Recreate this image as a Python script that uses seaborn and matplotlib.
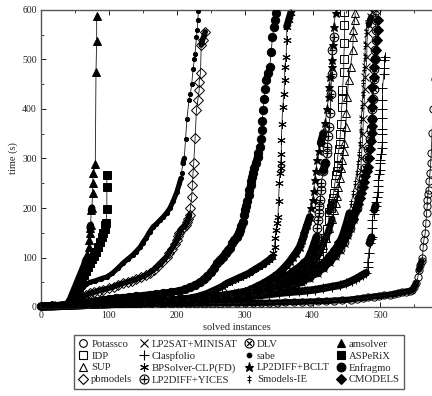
import matplotlib
matplotlib.use("Agg")
import matplotlib.pyplot as plt
from matplotlib.lines import Line2D
from matplotlib.path import Path
from matplotlib.ticker import MultipleLocator
import numpy as np
import pandas as pd
import seaborn as sns

# ---------------- data: (solved instances, time in s) ----------------
POTASSCO = [(0,0.5),(12,1),(24,1.5),(36,2),(48,2.5),(60,3),(72,3),(84,3.5),(96,3.5),(108,4),(120,4),(132,4.5),
            (144,4.5),(156,5),(168,5),(180,5.5),(192,5.5),(204,6),(216,6),(228,6.5),(240,6.5),(252,7),(264,7),
            (276,7.5),(288,7.5),(300,8),(312,8),(324,8.5),(336,8.5),(348,9),(360,9.5),(372,10),(384,10.5),
            (396,11),(408,11.5),(420,12),(432,13),(444,14),(456,15),(466,17),(474,18),(482,19.5),(490,21),
            (498,22),(506,23.5),(514,25),(520,26),(526,28),(532,29.5),(538,31),(543,32.5),(547,34),(550,40),
            (553,48),(555,60),(557,75),(559,85),(561,92),(562,100),(563,121),(564,135),(566,149),(567,170),
            (568,190),(569,205),(569,216),(570,228),(571,236),(572,255),(573,270),(574,290),(575,311),
            (576,351),(578,400),(581,460)]
IDP = [(0,1),(18,1.5),(36,2.5),(54,3.5),(72,4.5),(90,5.5),(108,7),(126,8),(144,9.5),(162,11),(180,12.5),
       (198,14),(216,16),(234,18),(252,20),(270,23),(288,26),(306,29),(324,33),(342,38),(356,44),(368,50),
       (378,58),(388,68),(396,80),(403,92),(409,105),(414,120),(418,140),(421,158),(424,175),(424,192),
       (427,200),(429,210),(430,220),(431,230),(433,250),(435,267),(436,275),(437,285),(437,303),(439,320),
       (440,330),(441,350),(442,370),(443,404),(444,420),(444,438),(446,475),(446,500),(447,533),(447,570),
       (447,596)]
SUP = [(0,1),(19,1.5),(38,2.5),(57,3.5),(76,5),(95,6),(114,7.5),(133,9),(152,10.5),(171,12),(190,14),
       (209,16),(228,18),(247,21),(266,24),(285,28),(304,32),(322,37),(338,43),(352,50),(364,58),(375,67),
       (385,77),(394,88),(402,100),(409,113),(415,126),(420,140),(425,160),(429,178),(432,195),(434,210),
       (436,225),(438,242),(440,260),(442,280),(444,297),(446,315),(447,331),(449,364),(450,392),(451,424),
       (453,459),(456,485),(459,519),(460,545),(460,560),(462,580),(463,594)]
PBMODELS = [(0,1),(15,2),(30,3),(42,4),(50,8),(55,12),(59,16),(62,20),(67,24),(72,28),(78,30),(85,33),
            (92,35),(100,38),(107,41),(114,45),(121,48),(128,51),(134,53),(140,56),(147,60),(154,64),
            (160,69),(166,75),(172,82),(178,90),(185,101),(189,110),(193,118),(197,127),(200,135),(202,143),
            (204,150),(207,158),(211,162),(213,166),(215,172),(217,178),(219,186),(220,200),(222,222),
            (223,246),(224,271),(225,291),(227,341),(229,398),(231,418),(233,438),(233,455),(235,473),
            (236,529),(238,539),(242,556)]
MINISAT = [(0,1),(19,1.5),(38,2.5),(57,3.5),(76,4.5),(95,5.5),(114,6.5),(133,8),(152,9.5),(171,11),
           (190,12.5),(209,14),(228,16),(247,18),(266,20),(285,22),(304,25),(322,28),(340,33),(356,38),
           (370,44),(383,51),(395,59),(406,68),(416,78),(425,90),(433,103),(440,116),(446,130),(451,145),
           (455,160),(459,178),(462,195),(465,215),(467,235),(469,255),(471,275),(472,300),(473,325),
           (474,350),(475,380),(476,410),(477,440),(478,465),(479,485),(480,505),(480,530),(481,553),
           (483,570),(486,585),(488,596)]
CLASPFOLIO = [(0,1),(16,1.5),(32,2),(48,3),(64,3.5),(80,4.5),(96,5),(112,6),(128,7),(144,8),(160,9),
              (176,10),(192,11),(208,12),(224,13),(240,14),(256,15.5),(272,17),(288,19),(304,21),(320,23),
              (336,25.5),(351,28),(366,30),(380,31.5),(392,33),(404,35),(416,38),(428,41),(440,44),(450,48),
              (458,53),(464,57),(469,61),(474,65),(479,69),(481,80),(481,91),(483,110),(484,129),(486,137),
              (487,141),(488,160),(488,176),(490,188),(491,196),(493,205),(494,212),(495,222),(496,232),
              (497,245),(497,257),(498,268),(499,277),(500,290),(500,297),(501,310),(502,322),(503,333),
              (503,350),(503,360),(503,382),(503,400),(503,418),(503,442),(505,470),(506,483),(506,499),
              (507,505)]
BPSOLVER = [(0,1),(20,2),(40,3),(60,4),(80,5),(100,6),(120,8),(140,9),(160,11),(180,13),(200,15),(215,17),
            (230,21),(244,27),(257,35),(266,41),(274,48),(282,53),(290,58),(298,63),(306,68),(313,74),
            (320,80),(326,85),(331,90),(336,95),(341,101),(342,110),(344,121),(345,140),(346,156),(348,170),
            (349,182),(350,215),(351,250),(352,270),(353,280),(353,291),(354,310),(354,337),(355,370),
            (356,404),(358,430),(359,459),(359,485),(361,505),(362,540),(362,566),(365,580),(368,594)]
YICES = [(0,1),(18,1.5),(36,2.5),(54,3.5),(72,4.5),(90,5.5),(108,6.5),(126,7.5),(144,8.5),(162,10),
         (180,11),(198,12.5),(216,14),(234,16.5),(252,19),(270,22),(288,26),(306,30),(322,36),(336,43),
         (351,55),(360,60),(368,67),(375,75),(381,80),(387,88),(393,95),(398,109),(401,120),(403,129),
         (406,141),(407,160),(408,176),(410,190),(410,205),(411,216),(413,236),(413,250),(416,275),
         (419,291),(422,311),(422,323),(423,345),(424,364),(426,392),(427,430),(428,470),(429,519),(432,545)]
DLV = [(0,1),(17,1.5),(34,2.5),(51,3.5),(68,4.5),(85,5.5),(102,6.5),(119,7.5),(136,9),(153,10),(170,11.5),
       (187,13),(204,14.5),(221,16),(238,18),(255,20),(272,22),(289,25),(306,28),(323,31),(340,35),(356,40),
       (370,46),(383,53),(395,61),(406,70),(416,80),(425,92),(433,105),(440,118),(446,132),(451,147),
       (455,160),(460,178),(465,200),(469,220),(472,240),(475,260),(478,280),(480,300),(482,320),(484,340),
       (486,360),(487,380),(488,400),(489,420),(490,440),(491,460),(491,480),(492,500),(492,520),(493,540),
       (493,560),(493,580),(494,600)]
SABE = [(0,1),(14,2),(28,3),(40,5),(46,8),(50,12),(53,18),(56,25),(59,33),(62,40),(67,46),(72,50),(80,53),
        (88,57),(97,61),(105,68),(113,78),(121,89),(128,97),(135,105),(140,112),(146,121),(150,130),
        (155,140),(160,152),(165,162),(170,168),(175,175),(180,182),(185,190),(190,200),(195,215),(200,232),
        (204,250),(206,260),(207,271),(209,290),(211,300),(213,340),(215,380),(218,418),(220,430),(222,450),
        (224,480),(226,500),(227,512),(229,545),(230,560),(231,580),(232,598)]
BCLT = [(0,1),(20,1.5),(40,2.5),(60,3.5),(80,4.5),(100,5.5),(120,6.5),(140,8),(160,9),(180,10.5),(200,12),
        (220,14),(240,17),(260,20),(275,23),(290,28),(300,31),(307,34),(316,40),(325,46),(334,53),(342,60),
        (350,68),(356,76),(362,85),(367,93),(371,101),(376,110),(381,121),(385,135),(388,149),(392,165),
        (396,182),(398,200),(400,216),(402,235),(403,257),(405,275),(407,297),(410,315),(412,331),(416,351),
        (419,372),(421,400),(424,424),(425,445),(426,465),(428,485),(429,499),(430,530),(431,566),(434,594)]
SMODELS_IE = [(0,1),(21,1.5),(42,2.5),(63,3.5),(84,4.5),(105,5.5),(126,7),(147,8.5),(168,10),(189,11.5),
              (210,13),(231,15),(252,17),(273,19.5),(294,22),(314,25),(333,29),(350,34),(365,40),(378,47),
              (390,55),(400,64),(410,74),(419,86),(427,100),(434,115),(440,130),(445,148),(450,170),
              (454,190),(457,210),(460,230),(463,250),(465,270),(467,290),(469,310),(470,330),(471,355),
              (472,380),(473,405),(474,430),(475,455),(476,480),(477,505),(478,530),(479,555),(480,575)]
AMSOLVER = [(0,1),(13,2),(26,3),(36,4),(40,8),(43,15),(46,25),(49,35),(52,45),(55,55),(58,65),(61,75),
            (64,85),(66,95),(68,108),(70,122),(71,135),(72,150),(72,160),(73,165),(74,195),(75,200),(76,230),
            (76,250),(77,270),(80,289),(81,475),(82,537),(82,588)]
ASPERIX = [(0,1),(13,2),(26,3),(38,4),(42,8),(45,15),(48,24),(51,32),(54,40),(57,48),(60,56),(63,64),
           (66,72),(69,80),(72,88),(75,96),(78,104),(81,112),(84,122),(87,132),(90,142),(92,150),(94,158),
           (95,165),(96,170),(97,198),(97,243),(97,267)]
ENFRAGMO = [(0,1),(14,1.5),(28,2.5),(42,3.5),(56,5),(62,8),(70,10),(80,12),(90,14),(100,16),(110,18),
            (120,19),(130,20),(140,22),(150,23),(160,25),(170,26),(180,28),(192,30),(204,33),(212,36),
            (220,40),(227,45),(234,50),(240,56),(245,62),(250,70),(255,78),(259,89),(263,95),(268,102),
            (272,110),(276,115),(279,120),(282,129),(285,135),(288,142),(291,149),(293,155),(295,163),
            (297,172),(299,185),(300,196),(302,205),(304,215),(306,226),(307,236),(309,246),(310,255),
            (311,263),(312,271),(314,280),(316,290),(319,303),(320,312),(322,323),(324,340),(325,358),
            (326,375),(327,398),(329,420),(330,440),(332,459),(335,472),(337,485),(339,515),(341,545),
            (343,565),(344,580),(346,594)]
CMODELS = [(0,1),(16,1.5),(32,2.5),(48,3.5),(64,4.5),(80,5.5),(96,6.5),(112,7.5),(128,8.5),(144,10),
           (160,11),(176,12.5),(192,14),(208,15.5),(224,17),(240,19),(256,21),(272,23.5),(288,26),(304,29),
           (320,33),(336,37),(350,42),(363,48),(376,55),(388,63),(399,72),(409,82),(418,93),(426,105),
           (433,118),(439,132),(446,145),(450,153),(454,162),(459,178),(464,196),(467,208),(470,220),
           (472,231),(474,242),(476,253),(478,265),(480,274),(481,283),(483,300),(485,320),(486,335),
           (488,351),(488,365),(488,380),(488,404),(488,420),(488,444),(490,465),(491,485),(492,500),
           (494,519),(495,540),(496,560),(497,580)]

SOLVERS = ["Potassco", "IDP", "SUP", "pbmodels",
           "LP2SAT+MINISAT", "Claspfolio", "BPSolver-CLP(FD)", "LP2DIFF+YICES",
           "DLV", "sabe", "LP2DIFF+BCLT", "Smodels-IE",
           "amsolver", "ASPeRiX", "Enfragmo", "CMODELS"]
SERIES = [POTASSCO, IDP, SUP, PBMODELS, MINISAT, CLASPFOLIO, BPSOLVER, YICES,
          DLV, SABE, BCLT, SMODELS_IE, AMSOLVER, ASPERIX, ENFRAGMO, CMODELS]

# double-dagger marker drawn as a path (a vertical stroke with two cross bars)
DDAGGER = Path([(0, -1), (0, 1), (-0.55, 0.45), (0.55, 0.45), (-0.55, -0.3), (0.55, -0.3)],
               [Path.MOVETO, Path.LINETO, Path.MOVETO, Path.LINETO, Path.MOVETO, Path.LINETO])

# marker styles: (marker, facecolor, size)
STYLE = {
    "Potassco": ("o", "none", 5.2),
    "IDP": ("s", "none", 5.2),
    "SUP": ("^", "none", 5.6),
    "pbmodels": ("D", "none", 4.6),
    "LP2SAT+MINISAT": ("x", "none", 5.2),
    "Claspfolio": ("+", "none", 6.5),
    "BPSolver-CLP(FD)": ((6, 2, 0), "none", 6),
    "LP2DIFF+YICES": (r"$\oplus$", "black", 7),
    "DLV": (r"$\otimes$", "black", 7),
    "sabe": ("o", "black", 3),
    "LP2DIFF+BCLT": ("*", "black", 6.5),
    "Smodels-IE": (DDAGGER, "none", 6),
    "amsolver": ("^", "black", 6),
    "ASPeRiX": ("s", "black", 5.5),
    "Enfragmo": ("o", "black", 6),
    "CMODELS": ("D", "black", 5),
}

rows = []
for name, pts in zip(SOLVERS, SERIES):
    for n, t in pts:
        rows.append({"solver": name, "instances": n, "time": t})
df = pd.DataFrame(rows)

sns.set_style("ticks")
plt.rcParams["font.family"] = ["Liberation Serif", "DejaVu Serif"]
plt.rcParams["mathtext.fontset"] = "dejavusans"

fig = plt.figure(figsize=(4.32, 3.96), dpi=100)
ax = fig.add_axes([41 / 432, 89 / 396, 391 / 432, 297 / 396])
ax.set_xlim(0, 576)
ax.set_ylim(0, 600)


def is_math(m):
    return isinstance(m, str) and m.startswith("$")


# Where a curve rises slowly its markers (one per instance) merge into a solid band:
# draw those stretches as a thick stroke of the marker's width.
SLOPE_LIMIT = 5.5  # seconds per instance
for name in SOLVERS:
    m, fc, ms = STYLE[name]
    sub = df[df["solver"] == name]
    xs = sub["instances"].to_numpy(float)
    ys = sub["time"].to_numpy(float)
    dx = np.diff(xs)
    dy = np.diff(ys)
    slope = np.where(dx > 0, dy / np.where(dx > 0, dx, 1), np.inf)
    dense = slope < SLOPE_LIMIT
    bw = ms * (0.85 if name != "sabe" else 1.2)
    i = 0
    while i < len(dense):
        if dense[i]:
            j = i
            while j + 1 < len(dense) and dense[j + 1]:
                j += 1
            ax.plot(xs[i:j + 2], ys[i:j + 2], color="black", lw=bw,
                    solid_capstyle="round", solid_joinstyle="round", clip_on=False, zorder=2)
            i = j + 1
        else:
            i += 1

for name in SOLVERS:
    m, fc, ms = STYLE[name]
    sub = df[df["solver"] == name]
    sns.lineplot(data=sub, x="instances", y="time", ax=ax, estimator=None, sort=False,
                 color="#1a1a1a", linewidth=0.6, marker=m, markersize=ms,
                 markerfacecolor=fc, markeredgecolor="black",
                 markeredgewidth=0.0 if is_math(m) else 0.7, legend=False, zorder=3)

ax.set_xlim(0, 576)
ax.set_ylim(0, 600)
ax.xaxis.set_major_locator(MultipleLocator(100))
ax.xaxis.set_minor_locator(MultipleLocator(50))
ax.yaxis.set_major_locator(MultipleLocator(100))
ax.yaxis.set_minor_locator(MultipleLocator(50))
ax.tick_params(which="both", direction="in", top=True, right=False, labelsize=7,
               colors="#222222", pad=3)
ax.tick_params(which="major", length=3.5, width=0.7)
ax.tick_params(which="minor", length=2, width=0.6)
for s in ["left", "bottom", "top"]:
    ax.spines[s].set_color("#555555")
    ax.spines[s].set_linewidth(1.0)
ax.spines["right"].set_visible(False)
ax.set_xlabel("solved instances", fontsize=7.5, labelpad=2)
ax.set_ylabel("time (s)", fontsize=7.5, labelpad=3)

handles = []
for name in SOLVERS:
    m, fc, ms = STYLE[name]
    handles.append(Line2D([], [], linestyle="none", marker=m, markersize=ms + 0.3,
                          markerfacecolor=fc, markeredgecolor="black",
                          markeredgewidth=0.0 if is_math(m) else 0.8))
leg = fig.legend(handles, SOLVERS, ncol=4, loc="center", bbox_to_anchor=(239 / 432, 1 - 362 / 396),
                 frameon=True, fancybox=False, edgecolor="#333333",
                 prop={"family": "Liberation Serif", "size": 7.7},
                 handletextpad=0.25, columnspacing=0.55, labelspacing=0.22,
                 borderpad=0.4, handlelength=1.0)
leg.get_frame().set_linewidth(1.0)

fig.savefig("out.png", dpi=100)
